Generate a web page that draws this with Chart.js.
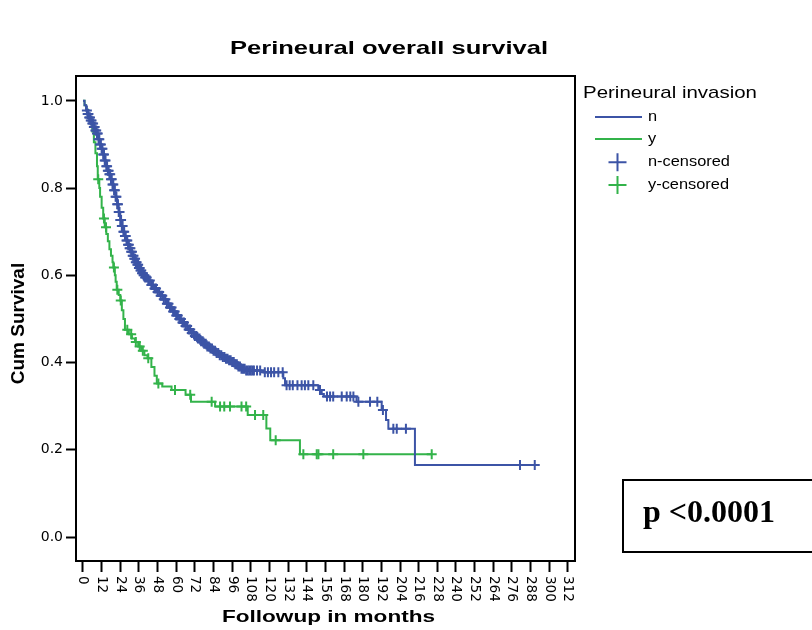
<!DOCTYPE html>
<html>
<head>
<meta charset="utf-8">
<script src="https://cdn.jsdelivr.net/npm/chart.js"></script>
<style>
html,body{margin:0;padding:0;background:#fff;}
#wrap{width:812px;height:630px;}
</style>
</head>
<body>
<div id="wrap"><canvas id="c" width="812" height="630"></canvas></div>
<script>
// ---------- DATA ----------
const chartTitle = 'Perineural overall survival';
const xAxisTitle = 'Followup in months';
const yAxisTitle = 'Cum Survival';
const legendTitle = 'Perineural invasion';
const seriesNames = ['n', 'y', 'n-censored', 'y-censored'];
const pValueText = 'p <0.0001';

const xTickValues = [0,12,24,36,48,60,72,84,96,108,120,132,144,156,168,180,192,204,216,228,240,252,264,276,288,300,312];
const xTickLabels = ['0','12','24','36','48','60','72','84','96','108','120','132','144','156','168','180','192','204','216','228','240','252','264','276','288','300','312'];
const yTickValues = [0, 0.2, 0.4, 0.6, 0.8, 1.0];
const yTickLabels = ['0.0', '0.2', '0.4', '0.6', '0.8', '1.0'];

// Kaplan-Meier step points, perineural invasion = n
const nTime = [0,1,2,3,4,5,6,7,8,9,10,11,12,13,14,15,16,17,18,19,20,21,22,23,24,25,26,27,28,29,30,31,32,33,34,35,36,37,38,39,40,
  42,44,46,48,50,52,54,56,58,60,62,64,66,68,70,72,74,76,78,80,82,84,86,88,90,92,94,96,98,100,102,
  105,116,128.9,130,151.4,153.6,155,176,192.2,195,196.5,213.6,290.7];
const nSurv = [1.0,0.99,0.978,0.97,0.962,0.955,0.948,0.94,0.932,0.925,0.912,0.9,0.89,0.877,0.863,0.85,0.84,0.832,0.82,0.808,
  0.795,0.78,0.763,0.745,0.727,0.713,0.7,0.69,0.68,0.67,0.662,0.654,0.645,0.638,0.63,0.624,0.617,0.611,0.605,0.6,0.595,
  0.588,0.578,0.57,0.562,0.553,0.545,0.535,0.526,0.517,0.508,0.5,0.492,0.484,0.476,0.468,0.461,0.455,0.449,0.443,0.437,
  0.432,0.427,0.422,0.417,0.413,0.409,0.405,0.401,0.396,0.391,0.386,
  0.382,0.378,0.364,0.348,0.337,0.328,0.322,0.31,0.291,0.268,0.248,0.165,0.165];

// censored observations, n
const nCensTime = [2.5,3,3.5,4,4.5,5,5.5,6,6.5,7,7.5,8,8.5,9,9.5,10,10.5,11,11.5,12,12.5,13,13.5,14,14.5,15,15.5,16,16.5,17,17.5,
  18,18.5,19,19.5,20,20.5,21,21.5,22,22.5,23,23.5,24,24.5,25,25.5,26,26.5,27,27.5,28,28.5,29,29.5,30,30.5,31,31.5,32,32.5,
  33,33.5,34,34.5,35,35.5,36,36.5,37,37.5,38,38.5,39,39.5,40,
  41,42,43,44,45,46,47,48,49,50,51,52,53,54,55,56,57,58,59,60,61,62,63,64,65,66,67,68,69,70,71,72,73,74,75,76,77,78,79,80,
  81,82,83,84,85,86,87,88,89,90,91,92,93,94,95,96,97,98,99,100,101,102,103,104,105,106,107,108,109,110,112,114,117,119,121,
  123,125.7,128.5,131,133,135,138,140.7,142.8,145,148.2,152.5,157,159,161,166.5,169.7,172,174,177.2,184.7,189.4,193,
  199.7,201.9,207.8,281.2,290.7];
const nCensSurv = [0.978,0.97,0.97,0.962,0.962,0.955,0.955,0.948,0.948,0.94,0.94,0.932,0.932,0.925,0.925,0.912,0.912,0.9,0.9,
  0.89,0.89,0.877,0.877,0.863,0.863,0.85,0.85,0.84,0.84,0.832,0.832,0.82,0.82,0.808,0.808,0.795,0.795,0.78,0.78,0.763,0.763,
  0.745,0.745,0.727,0.727,0.713,0.713,0.7,0.7,0.69,0.69,0.68,0.68,0.67,0.67,0.662,0.662,0.654,0.654,0.645,0.645,0.638,0.638,
  0.63,0.63,0.624,0.624,0.617,0.617,0.611,0.611,0.605,0.605,0.6,0.6,0.595,
  0.595,0.588,0.588,0.578,0.578,0.57,0.57,0.562,0.562,0.553,0.553,0.545,0.545,0.535,0.535,0.526,0.526,0.517,0.517,0.508,
  0.508,0.5,0.5,0.492,0.492,0.484,0.484,0.476,0.476,0.468,0.468,0.461,0.461,0.455,0.455,0.449,0.449,0.443,0.443,0.437,
  0.437,0.432,0.432,0.427,0.427,0.422,0.422,0.417,0.417,0.413,0.413,0.409,0.409,0.405,0.405,0.401,0.401,0.396,0.396,0.391,
  0.391,0.386,0.386,0.386,0.382,0.382,0.382,0.382,0.382,0.382,0.382,0.382,0.378,0.378,0.378,
  0.378,0.378,0.378,0.348,0.348,0.348,0.348,0.348,0.348,0.348,0.348,0.337,0.322,0.322,0.322,0.322,0.322,0.322,0.322,0.31,
  0.31,0.31,0.291,0.248,0.248,0.248,0.165,0.165];

// Kaplan-Meier step points, perineural invasion = y
const yTime = [0,1,2,3,4,5,6,7,8,9,9.5,10.5,11,12,13,14,15,16,17,18,19,19.5,20.5,21,21.7,23,24,25,26,27,
  29.5,31.5,33.5,35.5,37.5,39.5,41.5,44,46,47.5,51,57,66,69.5,85,106,118,120.5,139.6,224.4];
const ySurv = [1.0,0.99,0.98,0.97,0.96,0.948,0.93,0.905,0.88,0.85,0.82,0.8,0.78,0.755,0.73,0.71,0.695,0.678,0.66,0.645,0.63,
  0.618,0.6,0.585,0.567,0.555,0.542,0.52,0.5,0.475,0.465,0.455,0.447,0.437,0.427,0.417,0.41,0.39,0.37,0.352,0.345,0.337,
  0.326,0.31,0.299,0.28,0.249,0.222,0.19,0.19];

// censored observations, y
const yCensTime = [9.8,13.5,14.8,19.9,22.1,24.3,28.5,31,34,36.5,38.5,42,48.5,59.2,69,82.8,88.2,90.9,94.6,102,105,110.7,116,
  124,141.8,150.4,151.5,161,180.4,224.4];
const yCensSurv = [0.82,0.73,0.71,0.618,0.567,0.542,0.475,0.465,0.447,0.437,0.427,0.41,0.352,0.337,0.326,0.31,0.299,0.299,
  0.299,0.299,0.299,0.28,0.28,0.222,0.19,0.19,0.19,0.19,0.19,0.19];

// ---------- STYLE ----------
const BLUE = '#3C54A6';
const GREEN = '#33B34A';

const pts = (xs, ys) => xs.map((x, i) => ({x: x, y: ys[i]}));

function drawText(ctx, text, x, y, font, o) {
  ctx.save();
  ctx.font = font;
  const w = ctx.measureText(text).width;
  const sx = o.width ? o.width / w : (o.sx || 1);
  ctx.translate(x, y);
  if (o.rotate) ctx.rotate(o.rotate);
  ctx.scale(sx, 1);
  ctx.textAlign = o.align || 'left';
  ctx.textBaseline = o.baseline || 'alphabetic';
  ctx.fillStyle = o.color || '#000';
  ctx.fillText(text, 0, 0);
  ctx.restore();
}

const decor = {
  id: 'decor',
  afterDraw(chart) {
    const ctx = chart.ctx;
    const ca = chart.chartArea;
    const xs = chart.scales.x;
    ctx.save();
    // plot frame
    ctx.strokeStyle = '#000';
    ctx.lineWidth = 2;
    ctx.strokeRect(ca.left, ca.top, ca.right - ca.left, ca.bottom - ca.top);
    // x tick labels (rotated clockwise)
    ctx.fillStyle = '#000';
    ctx.font = '13.5px "DejaVu Sans"';
    ctx.textAlign = 'left';
    ctx.textBaseline = 'middle';
    xTickValues.forEach((v, i) => {
      const px = xs.getPixelForValue(v);
      ctx.save();
      ctx.translate(px, ca.bottom + 15);
      ctx.rotate(Math.PI / 2);
      ctx.fillText(xTickLabels[i], 0, 0);
      ctx.restore();
    });
    // titles
    drawText(ctx, chartTitle, 389, 54, 'bold 18.5px "Liberation Sans"', {align: 'center', width: 318});
    drawText(ctx, xAxisTitle, (ca.left + ca.right) / 2 + 3, 622, 'bold 16.5px "Liberation Sans"', {align: 'center', width: 213});
    drawText(ctx, yAxisTitle, 19, (ca.top + ca.bottom) / 2 + 5, 'bold 19px "Liberation Sans"', {align: 'center', baseline: 'middle', rotate: -Math.PI / 2});
    // legend
    drawText(ctx, legendTitle, 583, 98, '17px "Liberation Sans"', {width: 174});
    const rows = [117, 139, 162.3, 185];
    const cols = [BLUE, GREEN, BLUE, GREEN];
    ctx.lineWidth = 2;
    for (let i = 0; i < 4; i++) {
      ctx.strokeStyle = cols[i];
      ctx.beginPath();
      if (i < 2) {
        ctx.moveTo(595, rows[i]); ctx.lineTo(642, rows[i]);
      } else {
        ctx.moveTo(608.5, rows[i]); ctx.lineTo(626.5, rows[i]);
        ctx.moveTo(617.5, rows[i] - 9); ctx.lineTo(617.5, rows[i] + 9);
      }
      ctx.stroke();
      drawText(ctx, seriesNames[i], 648, rows[i], '14px "Liberation Sans"', {sx: 1.17, baseline: 'middle'});
    }
    // p-value box
    ctx.strokeStyle = '#000';
    ctx.lineWidth = 2;
    ctx.strokeRect(623, 480, 200, 72);
    drawText(ctx, pValueText, 643, 522, 'bold 32px "Liberation Serif"', {});
    ctx.restore();
  }
};

new Chart(document.getElementById('c'), {
  type: 'scatter',
  data: {
    datasets: [
      {label: seriesNames[2], data: pts(nCensTime, nCensSurv), pointStyle: 'cross', pointRadius: 5, borderColor: BLUE, backgroundColor: BLUE, borderWidth: 2, order: 0},
      {label: seriesNames[0], data: pts(nTime, nSurv), showLine: true, stepped: 'before', borderColor: BLUE, borderWidth: 2, pointRadius: 0, fill: false, order: 1},
      {label: seriesNames[3], data: pts(yCensTime, yCensSurv), pointStyle: 'cross', pointRadius: 5, borderColor: GREEN, backgroundColor: GREEN, borderWidth: 2, order: 2},
      {label: seriesNames[1], data: pts(yTime, ySurv), showLine: true, stepped: 'before', borderColor: GREEN, borderWidth: 2, pointRadius: 0, fill: false, order: 3}
    ]
  },
  options: {
    responsive: false,
    animation: false,
    devicePixelRatio: 1,
    layout: {padding: {left: 0, top: 76, right: 237, bottom: 0}},
    plugins: {legend: {display: false}, title: {display: false}, tooltip: {enabled: false}},
    scales: {
      x: {
        type: 'linear', min: -4.5, max: 316.6,
        afterBuildTicks: s => { s.ticks = xTickValues.map(v => ({value: v})); },
        afterFit: s => { s.height = 69; },
        ticks: {display: false},
        grid: {display: true, drawOnChartArea: false, drawTicks: true, tickLength: 11, tickWidth: 2, tickColor: '#000', color: '#000'},
        border: {display: false}
      },
      y: {
        type: 'linear', min: -0.055, max: 1.057,
        afterBuildTicks: s => { s.ticks = yTickValues.map(v => ({value: v})); },
        afterFit: s => { s.width = 76; },
        ticks: {display: true, color: '#000', font: {family: '"DejaVu Sans"', size: 14}, padding: 3,
          callback: (v, i) => yTickLabels[i]},
        grid: {display: true, drawOnChartArea: false, drawTicks: true, tickLength: 10, tickWidth: 2, tickColor: '#000', color: '#000'},
        border: {display: false}
      }
    }
  },
  plugins: [decor]
});
</script>
</body>
</html>
